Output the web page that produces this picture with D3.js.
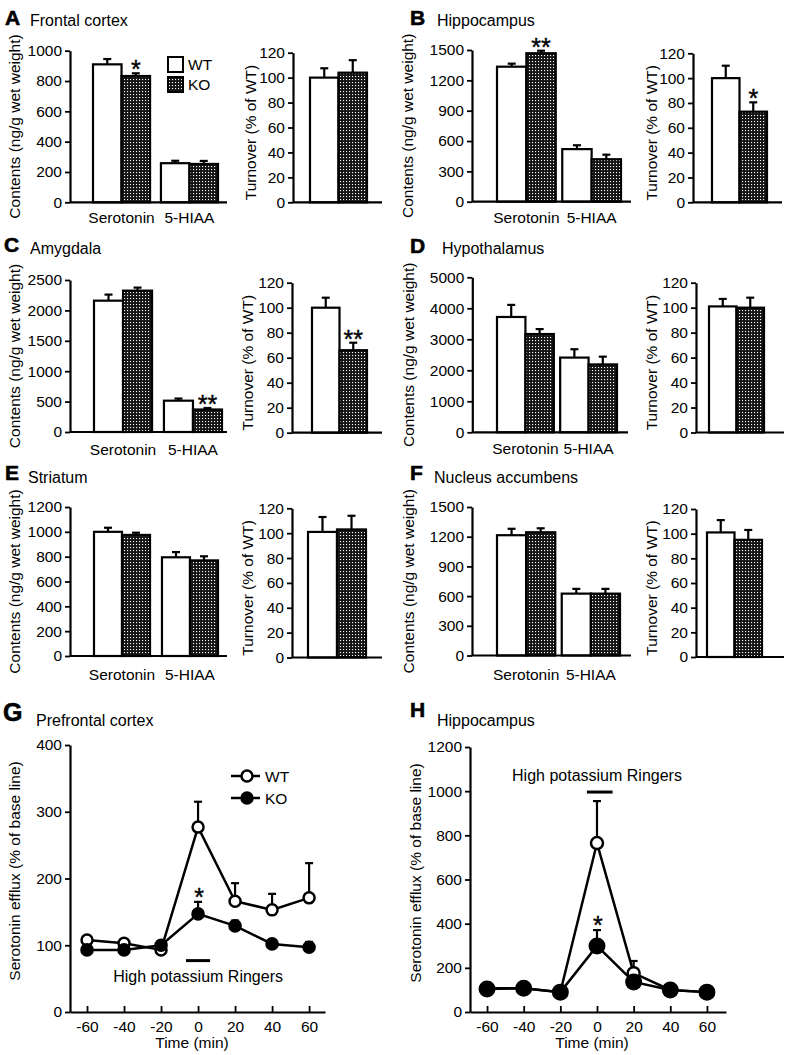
<!DOCTYPE html>
<html><head><meta charset="utf-8">
<script src="https://cdn.jsdelivr.net/npm/d3@7"></script>
<style>
body{margin:0;background:#fff}
text{font-family:"Liberation Sans",Arial,Helvetica,sans-serif;fill:#000}
</style>
</head><body>
<svg id="chart" width="788" height="1055"></svg>
<script>
// ---------------- DATA ----------------
const categories = ["Serotonin", "5-HIAA"];
const genotypes = ["WT", "KO"];
const regions = ["Frontal cortex", "Hippocampus", "Amygdala", "Hypothalamus", "Striatum", "Nucleus accumbens"];
const letters = ["A", "B", "C", "D", "E", "F"];

// Contents (ng/g wet weight): [Serotonin, 5-HIAA] per region
const contentsWT    = [[910, 258], [1335, 520], [2160, 515], [3720, 2410], [1000, 795], [1215, 625]];
const contentsWTsem = [[35, 16],   [30, 38],    [100, 35],   [390, 270],   [33, 42],    [65, 48]];
const contentsKO    = [[833, 253], [1468, 420], [2325, 370], [3170, 2190], [975, 770],  [1245, 625]];
const contentsKOsem = [[18, 20],   [25, 45],    [50, 25],    [160, 250],   [18, 33],    [40, 48]];
const contentsStarsKO = [["*", ""], ["**", ""], ["", "**"], ["", ""], ["", ""], ["", ""]];
const contentsMax  = [1000, 1500, 2500, 5000, 1200, 1500];
const contentsStep = [200, 300, 500, 1000, 200, 300];

// Turnover (% of WT)
const turnoverWT    = [100, 100, 100, 101, 101, 101];
const turnoverWTsem = [7.5, 10, 8, 6, 12, 10];
const turnoverKO    = [104, 73, 66, 100, 103, 95];
const turnoverKOsem = [10, 7.5, 6, 8, 11, 8];
const turnoverStarsKO = ["", "*", "**", "", "", ""];
const turnoverTicks = [0, 20, 40, 60, 80, 100, 120];

// Microdialysis time course
const times = [-60, -40, -20, 0, 20, 40, 60];
const pfcWT    = [108, 103, 93, 277, 166, 153, 171];
const pfcWTsem = [4, 4, 4, 38, 27, 24, 52];
const pfcKO    = [93, 93, 100, 147, 129, 102, 97];
const pfcKOsem = [4, 4, 4, 18, 8, 5, 8];
const pfcTicks = [0, 100, 200, 300, 400];
const hipWT    = [108, 108, 90, 765, 176, 100, 90];
const hipWTsem = [8, 8, 8, 190, 55, 8, 8];
const hipKO    = [104, 108, 90, 299, 136, 100, 90];
const hipKOsem = [8, 8, 8, 72, 15, 8, 8];
const hipTicks = [0, 200, 400, 600, 800, 1000, 1200];

// ---------------- LAYOUT ----------------
const FONT = 15.5;
const layout = [
  {lx:5, ly:25, tx:30, ty:26, lab:223,
   c:{ax:70, end:227, y0:202.3, yTop:50.7, g0:93, g1:218, pad:0.16, ylab:20},
   t:{ax:293, end:382, y0:202.3, yTop:52.7, b0:310, b1:367, ylab:256}},
  {lx:410, ly:25, tx:437, ty:26, lab:223,
   c:{ax:472, end:631, y0:201.7, yTop:50, g0:497, g1:621, pad:0.1, ylab:413},
   t:{ax:693, end:782, y0:202.3, yTop:53.3, b0:712, b1:767, ylab:657}},
  {lx:4, ly:252, tx:30, ty:254, lab:455,
   c:{ax:70, end:227, y0:432, yTop:280, g0:94, g1:222, pad:0.17, ylab:20},
   t:{ax:292, end:382, y0:432.7, yTop:282.7, b0:312, b1:367, ylab:253}},
  {lx:410, ly:253, tx:442, ty:254, lab:454,
   c:{ax:472.3, end:628, y0:432.3, yTop:277.3, g0:497, g1:617, pad:0.1, ylab:414},
   t:{ax:696, end:784, y0:432.5, yTop:282.7, b0:709, b1:764, ylab:657}},
  {lx:5, ly:480, tx:28, ty:483, lab:680,
   c:{ax:70, end:227, y0:656, yTop:507, g0:94, g1:218, pad:0.176, ylab:20},
   t:{ax:292, end:382, y0:657.5, yTop:508.3, b0:308, b1:366, ylab:253}},
  {lx:410, ly:480, tx:434, ty:483, lab:680,
   c:{ax:472, end:631, y0:655.5, yTop:507, g0:497, g1:620, pad:0.1, ylab:414},
   t:{ax:696, end:784, y0:657, yTop:509, b0:707, b1:762, ylab:657}}
];

const svg = d3.select("#chart");
svg.append("rect").attr("width",788).attr("height",1055).attr("fill","#fff");
const defs = svg.append("defs");
const pat = defs.append("pattern").attr("id","dots").attr("width",3).attr("height",3)
  .attr("patternUnits","userSpaceOnUse");
pat.append("rect").attr("width",3).attr("height",3).attr("fill","#151515");
pat.append("rect").attr("x",1).attr("y",1).attr("width",1.1).attr("height",1.1).attr("fill","#fff");

function styleAxis(sel){
  sel.select(".domain").attr("stroke","#000").attr("stroke-width",2.2);
  sel.selectAll(".tick line").attr("stroke","#000").attr("stroke-width",1.8);
  sel.selectAll(".tick text").attr("font-size",FONT).attr("fill","#000")
     .attr("font-family",'"Liberation Sans",Arial,sans-serif');
}

function errBar(g, x, yMean, yTop, cap){
  g.append("line").attr("x1",x).attr("x2",x).attr("y1",yMean).attr("y2",yTop)
    .attr("stroke","#000").attr("stroke-width",2.2);
  g.append("line").attr("x1",x-cap/2).attr("x2",x+cap/2).attr("y1",yTop).attr("y2",yTop)
    .attr("stroke","#000").attr("stroke-width",2.2);
}

function star(g, x, yTop, s){
  if(!s) return;
  g.append("text").attr("x",x).attr("y",yTop+5).attr("text-anchor","middle")
    .attr("font-size",25).attr("stroke","#000").attr("stroke-width",0.4).text(s);
}

function barRect(g, x, w, y0, y1, gt){
  g.append("rect").attr("x",x).attr("width",w).attr("y",y1).attr("height",y0-y1)
    .attr("fill", gt==="WT" ? "#fff" : "url(#dots)")
    .attr("stroke","#000").attr("stroke-width",2.2);
}

regions.forEach((name, i) => {
  const L = layout[i];
  const g = svg.append("g");
  // titles
  g.append("text").attr("x",L.lx).attr("y",L.ly).attr("font-size",21).attr("font-weight","bold")
    .attr("stroke","#000").attr("stroke-width",0.6).text(letters[i]);
  g.append("text").attr("x",L.tx).attr("y",L.ty).attr("font-size",16).text(name);

  // ---- contents chart ----
  const C = L.c;
  const y = d3.scaleLinear().domain([0, contentsMax[i]]).range([C.y0, C.yTop]);
  const gx = d3.scaleBand().domain(categories).range([C.g0, C.g1]).paddingInner(C.pad).paddingOuter(0);
  const sx = d3.scaleBand().domain(genotypes).range([0, gx.bandwidth()]);
  categories.forEach((cat, ci) => {
    genotypes.forEach(gt => {
      const v = (gt==="WT" ? contentsWT : contentsKO)[i][ci];
      const s = (gt==="WT" ? contentsWTsem : contentsKOsem)[i][ci];
      const x = gx(cat) + sx(gt), w = sx.bandwidth();
      errBar(g, x + w/2, y(v), y(v+s), 8);
      barRect(g, x, w, y(0), y(v), gt);
      if (gt==="KO") star(g, x + w/2, y(v+s), contentsStarsKO[i][ci]);
    });
    g.append("text").attr("x", gx(cat) + gx.bandwidth()/2).attr("y", L.lab)
      .attr("text-anchor","middle").attr("font-size",FONT).text(cat);
  });
  const ya = g.append("g").attr("transform",`translate(${C.ax},0)`)
    .call(d3.axisLeft(y).tickValues(d3.range(0, contentsMax[i]+1, contentsStep[i]))
      .tickFormat(d3.format("d")).tickSize(5).tickSizeOuter(0).tickPadding(3));
  styleAxis(ya);
  g.append("line").attr("x1",C.ax).attr("x2",C.end).attr("y1",C.y0).attr("y2",C.y0)
    .attr("stroke","#000").attr("stroke-width",2.2);
  g.append("text").attr("transform",`translate(${C.ylab},${(C.y0+C.yTop)/2}) rotate(-90)`)
    .attr("text-anchor","middle").attr("font-size",FONT).text("Contents (ng/g wet weight)");

  // ---- turnover chart ----
  const T = L.t;
  const yt = d3.scaleLinear().domain([0, 120]).range([T.y0, T.yTop]);
  const tx = d3.scaleBand().domain(genotypes).range([T.b0, T.b1]);
  genotypes.forEach(gt => {
    const v = gt==="WT" ? turnoverWT[i] : turnoverKO[i];
    const s = gt==="WT" ? turnoverWTsem[i] : turnoverKOsem[i];
    const x = tx(gt), w = tx.bandwidth();
    errBar(g, x + w/2, yt(v), yt(v+s), 8);
    barRect(g, x, w, yt(0), yt(v), gt);
    if (gt==="KO") star(g, x + w/2, yt(v+s), turnoverStarsKO[i]);
  });
  const yta = g.append("g").attr("transform",`translate(${T.ax},0)`)
    .call(d3.axisLeft(yt).tickValues(turnoverTicks).tickFormat(d3.format("d"))
      .tickSize(5).tickSizeOuter(0).tickPadding(3));
  styleAxis(yta);
  g.append("line").attr("x1",T.ax).attr("x2",T.end).attr("y1",T.y0).attr("y2",T.y0)
    .attr("stroke","#000").attr("stroke-width",2.2);
  g.append("text").attr("transform",`translate(${T.ylab},${(T.y0+T.yTop)/2+5}) rotate(-90)`)
    .attr("text-anchor","middle").attr("font-size",FONT).text("Turnover (% of WT)");
});

// legend in panel A
(function(){
  const g = svg.append("g");
  [["WT",57],["KO",77]].forEach(([gt,yy]) => {
    g.append("rect").attr("x",168).attr("y",yy).attr("width",15).attr("height",15)
      .attr("fill", gt==="WT" ? "#fff" : "url(#dots)").attr("stroke","#000").attr("stroke-width",2);
    g.append("text").attr("x",188).attr("y",yy+13).attr("font-size",FONT).text(gt);
  });
})();

// ---------------- TIME COURSE PANELS ----------------
const tpanels = [
  {letter:"G", title:"Prefrontal cortex", lx:3, ly:721, lsize:25, tx:36, ty:726,
   ax:70, end:325, y0:1012, yTop:745, xd:[-69.2, 68.6], ymax:400, yticks:pfcTicks,
   wt:pfcWT, wts:pfcWTsem, ko:pfcKO, kos:pfcKOsem, rWT:5.5, rKO:5.8,
   ylab:20, ylabY:871, stim:[-6.5, 6.5], stimY:77, stimTextY:982, stimTextX:0,
   legend:true, xlabX:192},
  {letter:"H", title:"Hippocampus", lx:410, ly:717, lsize:21, tx:437, ty:726,
   ax:470, end:726, y0:1012, yTop:747, xd:[-69.3, 70.4], ymax:1200, yticks:hipTicks,
   wt:hipWT, wts:hipWTsem, ko:hipKO, kos:hipKOsem, rWT:6, rKO:7.5,
   ylab:421, ylabY:873, stim:[-5.5, 8.5], stimY:996, stimTextY:781, stimTextX:0,
   legend:false, xlabX:592}
];

tpanels.forEach(P => {
  const g = svg.append("g");
  g.append("text").attr("x",P.lx).attr("y",P.ly).attr("font-size",P.lsize).attr("font-weight","bold")
    .attr("stroke","#000").attr("stroke-width",0.6).text(P.letter);
  g.append("text").attr("x",P.tx).attr("y",P.ty).attr("font-size",16).text(P.title);

  const x = d3.scaleLinear().domain(P.xd).range([P.ax, P.end]);
  const y = d3.scaleLinear().domain([0, P.ymax]).range([P.y0, P.yTop]);

  const ya = g.append("g").attr("transform",`translate(${P.ax},0)`)
    .call(d3.axisLeft(y).tickValues(P.yticks).tickFormat(d3.format("d")).tickSize(5).tickSizeOuter(0).tickPadding(3));
  styleAxis(ya);
  const xa = g.append("g").attr("transform",`translate(0,${P.y0})`)
    .call(d3.axisBottom(x).tickValues(times).tickFormat(d => String(d)).tickSizeInner(-6).tickSizeOuter(0).tickPadding(9));
  styleAxis(xa);
  g.append("text").attr("x",P.xlabX).attr("y",P.y0+36).attr("text-anchor","middle")
    .attr("font-size",FONT).text("Time (min)");
  g.append("text").attr("transform",`translate(${P.ylab},${P.ylabY}) rotate(-90)`)
    .attr("text-anchor","middle").attr("font-size",FONT).text("Serotonin efflux (% of base line)");

  const line = d3.line().x((d,k) => x(times[k])).y(d => y(d));
  // WT series
  g.append("path").datum(P.wt).attr("d", line).attr("fill","none").attr("stroke","#000").attr("stroke-width",2.5);
  P.wt.forEach((v,k) => errBar(g, x(times[k]), y(v), y(v+P.wts[k]), 8));
  g.selectAll(null).data(P.wt).enter().append("circle")
    .attr("cx",(d,k)=>x(times[k])).attr("cy",d=>y(d)).attr("r",P.rWT)
    .attr("fill","#fff").attr("stroke","#000").attr("stroke-width",2.5);
  // KO series
  g.append("path").datum(P.ko).attr("d", line).attr("fill","none").attr("stroke","#000").attr("stroke-width",2.5);
  P.ko.forEach((v,k) => errBar(g, x(times[k]), y(v), y(v+P.kos[k]), 8));
  g.selectAll(null).data(P.ko).enter().append("circle")
    .attr("cx",(d,k)=>x(times[k])).attr("cy",d=>y(d)).attr("r",P.rKO)
    .attr("fill","#000").attr("stroke","#000").attr("stroke-width",2);

  // significance star at 0 min
  const k0 = times.indexOf(0);
  g.append("text").attr("x", x(0)+1).attr("y", y(P.ko[k0]+P.kos[k0]) + 4)
    .attr("text-anchor","middle").attr("font-size",25).attr("stroke","#000").attr("stroke-width",0.4).text("*");

  // stimulation bar
  g.append("line").attr("x1",x(P.stim[0])).attr("x2",x(P.stim[1]))
    .attr("y1",y(P.stimY)).attr("y2",y(P.stimY)).attr("stroke","#000").attr("stroke-width",3);
  g.append("text").attr("x",x(P.stimTextX)).attr("y",P.stimTextY).attr("text-anchor","middle")
    .attr("font-size",16).text("High potassium Ringers");

  if (P.legend){
    [["WT",776,"#fff"],["KO",798,"#000"]].forEach(([lab,yy,fill]) => {
      g.append("line").attr("x1",231).attr("x2",260).attr("y1",yy).attr("y2",yy)
        .attr("stroke","#000").attr("stroke-width",2.5);
      g.append("circle").attr("cx",247).attr("cy",yy).attr("r",5.5)
        .attr("fill",fill).attr("stroke","#000").attr("stroke-width",2.5);
      g.append("text").attr("x",265).attr("y",yy+5.5).attr("font-size",FONT).text(lab);
    });
  }
});
</script>
</body></html>
